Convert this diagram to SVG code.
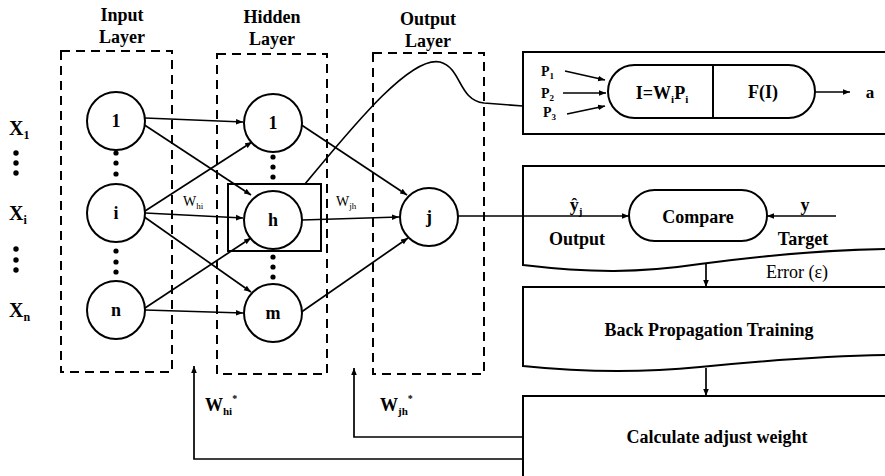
<svg xmlns="http://www.w3.org/2000/svg" width="885" height="476" viewBox="0 0 885 476">
<defs>
<marker id="ah" viewBox="0 0 10 10" refX="10" refY="5" markerWidth="7" markerHeight="7" markerUnits="userSpaceOnUse" orient="auto">
<path d="M0,1 L10,5 L0,9 Z" fill="#000"/>
</marker>
<style>
.t{font-family:'Liberation Serif','DejaVu Serif',serif;font-weight:bold;fill:#000}
.n{font-family:'Liberation Serif','DejaVu Serif',serif;font-weight:normal;fill:#000}
.dash{fill:none;stroke:#000;stroke-width:2;stroke-dasharray:9,6}
.node{fill:#fff;stroke:#000;stroke-width:2}
.box{fill:none;stroke:#000;stroke-width:2}
.ln{fill:none;stroke:#000;stroke-width:1.7}
.ar{fill:none;stroke:#000;stroke-width:1.7;marker-end:url(#ah)}
.dot{fill:#000}
</style>
</defs>
<rect width="885" height="476" fill="#fff"/>

<g id="input-layer">
<rect class="dash" x="61" y="51" width="111" height="321"/>
<text class="t" x="122" y="21" font-size="18" text-anchor="middle">Input</text>
<text class="t" x="122" y="43" font-size="18" text-anchor="middle">Layer</text>
</g>
<g id="hidden-layer">
<rect class="dash" x="217" y="54" width="110" height="320"/>
<text class="t" x="272" y="23" font-size="18" text-anchor="middle">Hidden</text>
<text class="t" x="272" y="45" font-size="18" text-anchor="middle">Layer</text>
</g>
<g id="output-layer">
<rect class="dash" x="373" y="53" width="111" height="321"/>
<text class="t" x="428" y="25" font-size="18" text-anchor="middle">Output</text>
<text class="t" x="428" y="47" font-size="18" text-anchor="middle">Layer</text>
</g>

<g id="x-labels">
<text class="t" x="9" y="135" font-size="20">X<tspan font-size="12" dy="4">1</tspan></text>
<circle class="dot" cx="16" cy="153" r="2.7"/><circle class="dot" cx="16" cy="163" r="2.7"/><circle class="dot" cx="16" cy="173" r="2.7"/>
<text class="t" x="9" y="220" font-size="20">X<tspan font-size="12" dy="4">i</tspan></text>
<circle class="dot" cx="16" cy="249" r="2.7"/><circle class="dot" cx="16" cy="260" r="2.7"/><circle class="dot" cx="16" cy="270" r="2.7"/>
<text class="t" x="9" y="317" font-size="20">X<tspan font-size="12" dy="4">n</tspan></text>
</g>

<g id="connectors">
<line class="ar" x1="145" y1="118" x2="243" y2="122"/>
<line class="ar" x1="143" y1="124" x2="251" y2="195"/>
<line class="ar" x1="145" y1="211" x2="252" y2="142"/>
<line class="ar" x1="145" y1="213" x2="243" y2="218"/>
<line class="ar" x1="143" y1="216" x2="251" y2="292"/>
<line class="ar" x1="145" y1="308" x2="251" y2="238"/>
<line class="ar" x1="145" y1="310" x2="243" y2="313"/>
<line class="ar" x1="300" y1="124" x2="407" y2="195"/>
<line class="ar" x1="302" y1="220" x2="399" y2="217"/>
<line class="ar" x1="300" y1="313" x2="408" y2="238"/>
<line class="ar" x1="458" y1="216" x2="629" y2="216"/>
<path class="ln" d="M305,184 C350,130 410,55 440,62 C462,68 458,100 484,103 L523,106"/>
<line class="ar" x1="565" y1="71" x2="605" y2="80"/>
<line class="ar" x1="563" y1="93" x2="606" y2="93"/>
<line class="ar" x1="567" y1="114" x2="605" y2="106"/>
<line class="ar" x1="815" y1="92" x2="850" y2="92"/>
<line class="ar" x1="836" y1="216" x2="767" y2="216"/>
<line class="ar" x1="706" y1="263" x2="706" y2="287"/>
<line class="ar" x1="706" y1="368" x2="706" y2="396"/>
<polyline class="ar" points="523,437 354,437 354,368"/>
<polyline class="ar" points="523,459 194,459 194,366"/>
<text class="n" x="183" y="206" font-size="14">W<tspan font-size="9" dy="3">hi</tspan></text>
<text class="n" x="336" y="206" font-size="14">W<tspan font-size="9" dy="3">jh</tspan></text>
<text class="t" x="205" y="411" font-size="18">W<tspan font-size="11" dy="4">hi</tspan><tspan font-size="10" dy="-13">*</tspan></text>
<text class="t" x="380" y="411" font-size="18">W<tspan font-size="11" dy="4">jh</tspan><tspan font-size="10" dy="-13">*</tspan></text>
</g>

<g id="in-1"><circle class="node" cx="116" cy="121" r="29"/><text class="t" x="116" y="127" font-size="18" text-anchor="middle">1</text></g>
<g id="in-i"><circle class="node" cx="116" cy="213" r="29"/><text class="t" x="116" y="219" font-size="18" text-anchor="middle">i</text></g>
<g id="in-n"><circle class="node" cx="116" cy="310" r="29"/><text class="t" x="116" y="316" font-size="18" text-anchor="middle">n</text></g>
<g id="in-dots">
<circle class="dot" cx="116" cy="153" r="2.6"/><circle class="dot" cx="116" cy="163" r="2.6"/><circle class="dot" cx="116" cy="174" r="2.6"/>
<circle class="dot" cx="116" cy="251" r="2.6"/><circle class="dot" cx="116" cy="262" r="2.6"/><circle class="dot" cx="116" cy="272" r="2.6"/>
</g>

<g id="hid-1"><circle class="node" cx="273" cy="123" r="29"/><text class="t" x="273" y="129" font-size="18" text-anchor="middle">1</text></g>
<g id="hid-h">
<rect class="box" x="228" y="184" width="93" height="67"/>
<circle class="node" cx="273" cy="220" r="29"/><text class="t" x="273" y="226" font-size="18" text-anchor="middle">h</text></g>
<g id="hid-m"><circle class="node" cx="273" cy="313" r="29"/><text class="t" x="273" y="319" font-size="18" text-anchor="middle">m</text></g>
<g id="hid-dots">
<circle class="dot" cx="273" cy="157" r="2.6"/><circle class="dot" cx="273" cy="167" r="2.6"/><circle class="dot" cx="273" cy="177" r="2.6"/>
<circle class="dot" cx="273" cy="257" r="2.6"/><circle class="dot" cx="273" cy="267" r="2.6"/><circle class="dot" cx="273" cy="277" r="2.6"/>
</g>

<g id="out-j"><circle class="node" cx="429" cy="217" r="29"/><text class="t" x="429" y="223" font-size="18" text-anchor="middle">j</text></g>

<g id="neuron-box">
<path class="box" d="M885,52 L523,52 L523,134 L885,134"/>
<rect class="node" x="608" y="65" width="207" height="53" rx="26.5" ry="26.5"/>
<line class="box" x1="713" y1="65" x2="713" y2="118"/>
<text class="t" x="662" y="99" font-size="18" text-anchor="middle">I=W<tspan font-size="11" dy="4">i</tspan><tspan dy="-4">P</tspan><tspan font-size="11" dy="4">i</tspan></text>
<text class="t" x="763" y="98" font-size="18" text-anchor="middle">F(I)</text>
<text class="t" x="541" y="76" font-size="14">P<tspan font-size="9" dy="3">1</tspan></text>
<text class="t" x="541" y="98" font-size="14">P<tspan font-size="9" dy="3">2</tspan></text>
<text class="t" x="543" y="117" font-size="14">P<tspan font-size="9" dy="3">3</tspan></text>
<text class="t" x="870" y="98" font-size="17" text-anchor="middle">a</text>
</g>

<g id="compare-box">
<path class="box" d="M885,166 L523,166 L523,265 C590,273 640,273 700,264 C760,256 820,250 885,249"/>
<rect class="node" x="629" y="190" width="138" height="51" rx="25.5" ry="25.5"/>
<text class="t" x="698" y="223" font-size="18" text-anchor="middle">Compare</text>
<text class="t" x="576" y="211" font-size="18" text-anchor="middle">ŷ<tspan font-size="11" dy="4">j</tspan></text>
<text class="t" x="805" y="211" font-size="18" text-anchor="middle">y</text>
<text class="t" x="577" y="245" font-size="18" text-anchor="middle">Output</text>
<text class="t" x="803" y="245" font-size="18" text-anchor="middle">Target</text>
<text class="n" x="797" y="278" font-size="18" text-anchor="middle">Error (ε)</text>
</g>

<g id="backprop-box">
<path class="box" d="M885,287 L523,287 L523,366 C580,372 640,373 700,367 C760,361 820,356 885,355"/>
<text class="t" x="709" y="336" font-size="18" text-anchor="middle">Back Propagation Training</text>
</g>

<g id="calc-box">
<path class="box" d="M885,396 L523,396 L523,476"/>
<text class="t" x="717" y="443" font-size="18" text-anchor="middle">Calculate adjust weight</text>
</g>
</svg>
